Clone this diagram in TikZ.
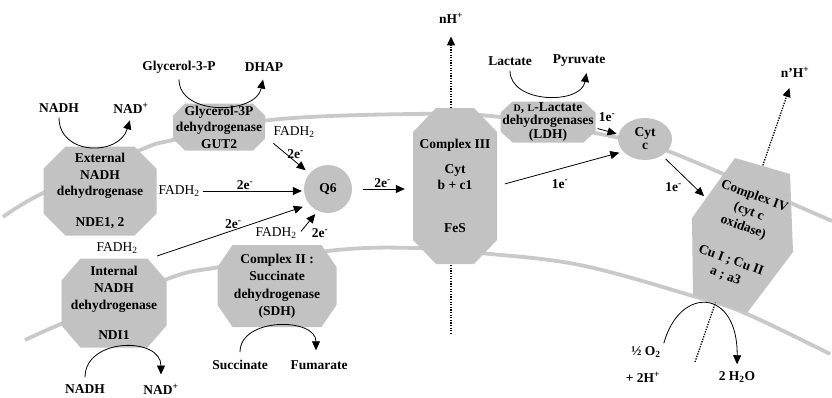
\documentclass[tikz,border=0pt]{standalone}
\usepackage{fontspec}
\setmainfont{Liberation Serif}
\usetikzlibrary{arrows.meta,positioning,calc,shapes.geometric}

\colorlet{protgray}{black!24}
\colorlet{memgray}{black!21}

\begin{document}
\begin{tikzpicture}[
  x=1pt, y=-1pt,
  >={Triangle[length=9pt, width=8pt]},
  font=\fontsize{13.5}{16.5}\selectfont\bfseries,
  membrane/.style={draw=memgray, line width=3.8pt},
  prot/.style 2 args={align=center, inner sep=0pt, path picture={
      \fill[protgray]
        ([xshift=#1]path picture bounding box.north west)
        -- ([xshift=-#1]path picture bounding box.north east)
        -- ([yshift=-#2]path picture bounding box.north east)
        -- ([yshift=#2]path picture bounding box.south east)
        -- ([xshift=-#1]path picture bounding box.south east)
        -- ([xshift=#1]path picture bounding box.south west)
        -- ([yshift=#2]path picture bounding box.south west)
        -- ([yshift=-#2]path picture bounding box.north west) -- cycle;}},
  blob/.style={fill=protgray, align=center, inner sep=0pt},
  lab/.style={inner sep=3pt},
  fadh/.style={lab, font=\fontsize{13.5}{16}\selectfont\mdseries},
  elab/.style={inner sep=1pt},
  flow/.style={->, line width=0.8pt},
  conv/.style={->, line width=0.8pt},
  pump/.style={->, line width=1.3pt, dash pattern=on 1.3pt off 1.3pt},
]
\useasboundingbox (0,0) rectangle (832,397);

% ---- membranes -------------------------------------------------------------
\draw[membrane] plot[smooth, tension=0.6] coordinates {(3,217) (43,193) (140,150)
  (173,140) (270,120) (413,114) (500,117) (620,138) (673,153) (832,221)};
\draw[membrane] plot[smooth, tension=0.6] coordinates {(25,340) (63,323) (167,279)
  (220,267) (337,250) (415,248) (480,253) (580,265) (693,296) (747,314) (830,354)};

% ---- proton pumping (behind the complexes) ---------------------------------
\node[lab] (nh3) at (451,18) {nH\textsuperscript{+}};
\node[lab] (nh4) at (795,72) {n'H\textsuperscript{+}};
\coordinate (h3base) at (451,334);
\coordinate (h4base) at (695,362);
\draw[pump, shorten >=10pt] (h3base) -- (nh3);
\draw[pump, shorten >=8pt] (h4base) -- (nh4);

% ---- complexes -------------------------------------------------------------
\node[prot={22pt}{22pt}, minimum width=113pt, minimum height=89pt] (nde) at (100,191)
  {External\\NADH\\dehydrogenase\\[14pt]NDE1, 2};
\node[prot={12pt}{12pt}, minimum width=92pt, minimum height=47pt] (gut) at (219,127)
  {Glycerol-3P\\dehydrogenase\\GUT2};
\node[prot={19pt}{22pt}, minimum width=105pt, minimum height=89pt,
      font=\fontsize{13.5}{17}\selectfont\bfseries] (ndi) at (114,303)
  {Internal\\NADH\\dehydrogenase\\[13pt]NDI1};
\node[prot={15pt}{22pt}, minimum width=119pt, minimum height=82pt,
      font=\fontsize{13.5}{17.5}\selectfont\bfseries] (sdh) at (277,286)
  {Complex II :\\Succinate\\dehydrogenase\\(SDH)};
\node[prot={23pt}{24pt}, minimum width=84pt, minimum height=156pt] (c3) at (455,186)
  {Complex III\\[8pt]Cyt\\b + c1\\[26pt]FeS};
\node[prot={12pt}{11pt}, minimum width=95pt, minimum height=41pt,
      font=\fontsize{13.5}{13.5}\selectfont\bfseries] (ldh) at (548,122)
  {{\fontsize{10}{12}\selectfont D}, {\fontsize{10}{12}\selectfont L}-Lactate\\dehydrogenases\\(LDH)};
\node[blob, circle, minimum size=48pt] (q6) at (328,189) {Q6};
\node[blob, ellipse, minimum width=54pt, minimum height=42pt,
      font=\fontsize{13.5}{13}\selectfont\bfseries] (cytc) at (645,139) {Cyt\\c};

% complex IV is a tilted hexagon, its text follows the tilt
\fill[protgray] (735,158) coordinate (c4a) -- (790,174) -- (793,252) -- (747,313)
  -- (693,295) -- (692,218) coordinate (c4f) -- cycle;
\node[rotate=-20, align=center, inner sep=0pt] (cox) at (740,236)
  {Complex IV\\(cyt c\\oxidase)\\[19pt]Cu I ; Cu II\\a ; a3};

% ---- substrates and products -----------------------------------------------
\foreach \n/\x/\y/\t in {nadhT/59/108/NADH, nadT/131/108/NAD\textsuperscript{+},
    glyc/179/67/Glycerol-3-P, dhap/264/67/DHAP, lact/510/61/Lactate,
    pyr/579/61/Pyruvate, nadhB/85/389/NADH, nadB/161/389/NAD\textsuperscript{+},
    succ/240/365/Succinate, fum/319/365/Fumarate, o2/646/352/{½ O\textsubscript{2}},
    hpl/643/377/{+ 2H\textsuperscript{+}}, h2o/737/377/{2 H\textsubscript{2}O}}
  \node[lab] (\n) at (\x,\y) {\t};

\foreach \n/\x/\y in {fadhA/179/191, fadhB/294/132, fadhC/117/248, fadhD/276/233}
  \node[fadh] (\n) at (\x,\y) {FADH\textsubscript{2}};

\draw[conv, shorten <=2pt, shorten >=4pt] (nadhT.south) .. controls +(0,40) and +(-12,40) .. (nadT.south);
\draw[conv, shorten <=3pt, shorten >=5pt] (glyc.south) .. controls +(0,40) and +(-8,40) .. (dhap.south);
\draw[conv, shorten <=2pt, shorten >=3pt] (lact.south) .. controls +(0,35) and +(-6,35) .. ([xshift=8pt]pyr.south);
\draw[conv, shorten <=4pt, shorten >=6pt] (nadhB.north) .. controls +(0,-44) and +(0,-44) .. (nadB.north);
\draw[conv, shorten <=5pt, shorten >=7pt] (succ.north) .. controls +(0,-40) and +(0,-40) .. ([xshift=-3pt]fum.north);
\draw[conv, shorten >=4pt] (o2.north east) .. controls +(16,-58) and +(1,-80) .. (h2o.north);

% ---- electron transfer -----------------------------------------------------
\draw[flow, shorten >=2pt] (fadhA.east) -- node[elab, above, pos=0.42] {2e\textsuperscript{-}} (fadhA.east -| q6.west);
\draw[flow, shorten <=4pt, shorten >=5pt] (fadhB.south west) -- node[elab, right, pos=0.4] {2e\textsuperscript{-}} (q6.140);
\coordinate (ndiout) at (157,256);
\draw[flow, shorten >=7pt] (ndiout) -- node[elab, above, pos=0.5] {2e\textsuperscript{-}} (q6.220);
\draw[flow, shorten <=2pt, shorten >=4pt] (fadhD.east) -- (q6.245);
\node[elab, right=11pt of fadhD] (eD) {2e\textsuperscript{-}};
\draw[flow, shorten <=11pt, shorten >=8pt] (q6.east) -- node[elab, above] {2e\textsuperscript{-}} (q6.east -| c3.west);
\draw[flow, shorten <=8pt, shorten >=4pt] (c3.east) -- node[elab, below=9pt] {1e\textsuperscript{-}} (cytc.210);
\draw[flow, shorten <=2pt, shorten >=2pt] ([yshift=-6pt]ldh.east) -- node[elab, above=8pt] {1e\textsuperscript{-}} (cytc.170);
\coordinate (c4in) at ($(c4f)!0.33!(c4a)$);
\draw[flow, shorten <=5pt, shorten >=3pt] (cytc) -- node[elab, left=12pt, pos=0.75] {1e\textsuperscript{-}} (c4in);
\end{tikzpicture}
\end{document}
